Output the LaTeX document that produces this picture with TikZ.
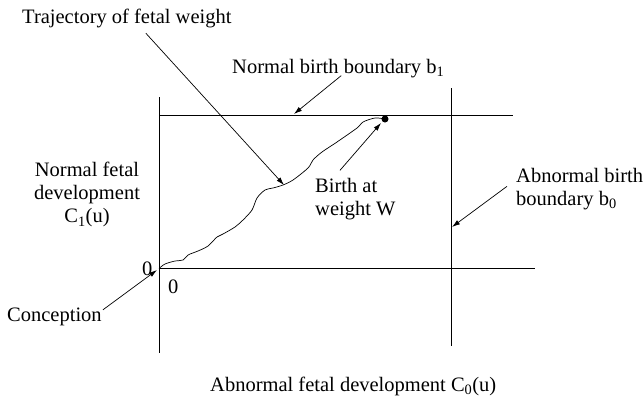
\documentclass[tikz,border=0pt]{standalone}
\usepackage{fontspec}
\setmainfont{Liberation Serif}
\usepackage{tikz}
\usetikzlibrary{arrows.meta,calc}

\begin{document}
\begin{tikzpicture}[x=1pt,y=-1pt,>={Latex[length=8pt,width=5pt]},
    lbl/.style={inner sep=0pt,font=\fontsize{20.5}{23}\selectfont},
    axis/.style={line width=0.9pt},
    pointer/.style={->,line width=0.7pt}]
  \useasboundingbox (0,0) rectangle (644,399);
  % boundaries
  \coordinate (O) at (159,268);
  \draw[axis] (159,97)--(159,353);
  \draw[axis] (O)--(535,268);
  \draw[axis] (159,115)--(513,115);
  \draw[axis] (451,88)--(451,346);
  % trajectory
  \draw[line width=0.7pt] plot[smooth,tension=0.5] coordinates {(159,268.5) (165,264) (175,261) (183,260) (188,255) (198,251) (208,246) (217,237) (223,234) (235,227) (243,220) (252,210) (257,198) (265,190) (273,188) (283,185) (293,180) (308,168) (313,160) (322,152) (337,142) (357,128) (363,122) (375,118) (385,119)};
  \fill (385,119) circle (3.5pt);
  \coordinate (trajhit) at (284,185);
  \coordinate (b1hit) at (294,114);
  \coordinate (birthhit) at (381,123);
  \coordinate (b0hit) at (452,227);
  \coordinate (conchit) at (157,270);
  % labels
  \node[lbl,anchor=base west] (traj) at (22,23.6) {Trajectory of fetal weight};
  \node[lbl,anchor=base west] (nbb) at (232,73) {Normal birth boundary b\textsubscript{1}};
  \node[lbl,anchor=north,align=center] (nfd) at (87,162.3) {Normal fetal\\development\\C\textsubscript{1}(u)};
  \node[lbl,anchor=north west,align=left] (bw) at (315,178.3) {Birth at\\weight W};
  \node[lbl,anchor=north west,align=left] (abb) at (516,168.3) {Abnormal birth\\boundary b\textsubscript{0}};
  \node[lbl,anchor=base west] (conc) at (7,321.6) {Conception};
  \node[lbl,anchor=base west] (zl) at (142,275) {0};
  \node[lbl,anchor=base west] (zb) at (168,293) {0};
  \node[lbl,anchor=base west] (afd) at (210,391.6) {Abnormal fetal development C\textsubscript{0}(u)};
  % pointers
  \draw[pointer] ([shift={(19,5)}]traj.south) -- (trajhit);
  \draw[pointer] ([shift={(3,-2)}]nbb.south) -- (b1hit);
  \draw[pointer] ([shift={(25,-8)}]bw.north west) -- (birthhit);
  \draw[pointer] ([shift={(-9,-3)}]abb.west) -- (b0hit);
  \draw[pointer] ([shift={(1,2)}]conc.north east) -- (conchit);
\end{tikzpicture}
\end{document}
